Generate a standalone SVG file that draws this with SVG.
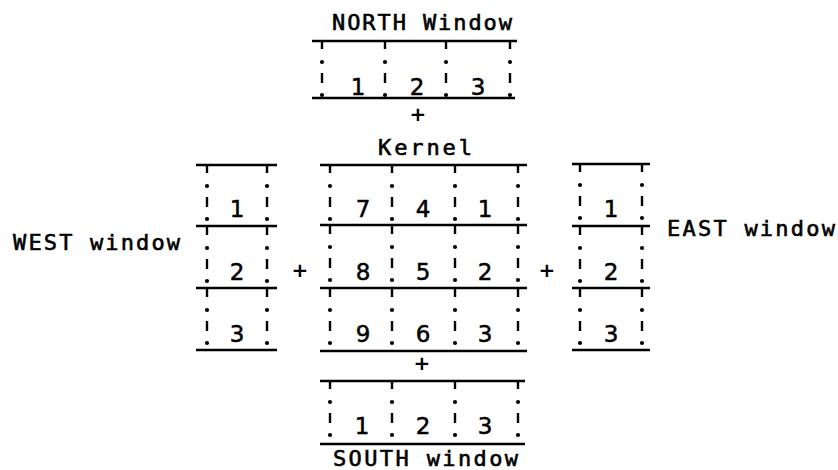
<svg xmlns="http://www.w3.org/2000/svg" xmlns:xlink="http://www.w3.org/1999/xlink" width="838" height="470" viewBox="0 0 838 470">
<style>
.h{stroke:#000;stroke-width:2.6;fill:none}
.lbl{font-family:"DejaVu Sans Mono","Liberation Mono",monospace;font-size:22px;fill:#000;stroke:#000;stroke-width:0.6}
.num{font-family:"DejaVu Sans","Liberation Sans",sans-serif;font-size:23px;fill:#000;stroke:#000;stroke-width:0.5;text-anchor:middle}
.plus{font-family:"DejaVu Sans","Liberation Sans",sans-serif;font-size:20px;font-weight:bold;fill:#000;text-anchor:middle}
</style>
<defs>
<g id="vc">
<line x1="0" y1="0" x2="0" y2="8" stroke="#000" stroke-width="2.4"/>
<circle cx="0" cy="21" r="2.1" fill="#000"/>
<line x1="0" y1="32" x2="0" y2="42" stroke="#000" stroke-width="2.4"/>
<circle cx="0" cy="54" r="2.1" fill="#000"/>
</g>
</defs>
<rect width="838" height="470" fill="#fff"/>

<g id="north">
<text class="lbl" x="332" y="30" textLength="180" lengthAdjust="spacing">NORTH Window</text>
<line class="h" x1="312" y1="41" x2="517" y2="41"/>
<use xlink:href="#vc" x="322" y="41"/><use xlink:href="#vc" x="385" y="41"/><use xlink:href="#vc" x="446" y="41"/><use xlink:href="#vc" x="510" y="41"/>
<line class="h" x1="312" y1="98" x2="515" y2="98"/>
<text class="num" x="358" y="95">1</text><text class="num" x="417" y="95">2</text><text class="num" x="478" y="95">3</text>
</g>

<g id="kernel">
<text class="lbl" x="378" y="155" textLength="94" lengthAdjust="spacing">Kernel</text>
<line class="h" x1="320" y1="165" x2="527" y2="165"/>
<line class="h" x1="320" y1="225" x2="527" y2="225"/>
<line class="h" x1="320" y1="288" x2="527" y2="288"/>
<line class="h" x1="320" y1="351" x2="527" y2="351"/>
<use xlink:href="#vc" x="330" y="165"/><use xlink:href="#vc" x="392" y="165"/><use xlink:href="#vc" x="455" y="165"/><use xlink:href="#vc" x="518" y="165"/>
<use xlink:href="#vc" x="330" y="226"/><use xlink:href="#vc" x="392" y="226"/><use xlink:href="#vc" x="455" y="226"/><use xlink:href="#vc" x="518" y="226"/>
<use xlink:href="#vc" x="330" y="289"/><use xlink:href="#vc" x="392" y="289"/><use xlink:href="#vc" x="455" y="289"/><use xlink:href="#vc" x="518" y="289"/>
<text class="num" x="363" y="217">7</text><text class="num" x="423" y="217">4</text><text class="num" x="485" y="217">1</text>
<text class="num" x="363" y="280">8</text><text class="num" x="423" y="280">5</text><text class="num" x="485" y="280">2</text>
<text class="num" x="363" y="342">9</text><text class="num" x="423" y="342">6</text><text class="num" x="485" y="342">3</text>
</g>

<g id="west">
<text class="lbl" x="13" y="250" textLength="167" lengthAdjust="spacing">WEST window</text>
<line class="h" x1="196" y1="165" x2="277" y2="165"/>
<line class="h" x1="196" y1="226" x2="277" y2="226"/>
<line class="h" x1="196" y1="288" x2="277" y2="288"/>
<line class="h" x1="196" y1="350" x2="277" y2="350"/>
<use xlink:href="#vc" x="207" y="165"/><use xlink:href="#vc" x="267" y="165"/>
<use xlink:href="#vc" x="207" y="227"/><use xlink:href="#vc" x="267" y="227"/>
<use xlink:href="#vc" x="207" y="289"/><use xlink:href="#vc" x="267" y="289"/>
<text class="num" x="237" y="217">1</text><text class="num" x="237" y="280">2</text><text class="num" x="237" y="342">3</text>
</g>

<g id="east">
<text class="lbl" x="667" y="236" textLength="168" lengthAdjust="spacing">EAST window</text>
<line class="h" x1="572" y1="164" x2="650" y2="164"/>
<line class="h" x1="572" y1="226" x2="650" y2="226"/>
<line class="h" x1="572" y1="288" x2="650" y2="288"/>
<line class="h" x1="572" y1="350" x2="650" y2="350"/>
<use xlink:href="#vc" x="580" y="164"/><use xlink:href="#vc" x="642" y="164"/>
<use xlink:href="#vc" x="580" y="227"/><use xlink:href="#vc" x="642" y="227"/>
<use xlink:href="#vc" x="580" y="289"/><use xlink:href="#vc" x="642" y="289"/>
<text class="num" x="611" y="217">1</text><text class="num" x="611" y="280">2</text><text class="num" x="611" y="342">3</text>
</g>

<g id="south">
<line class="h" x1="320" y1="381" x2="525" y2="381"/>
<use xlink:href="#vc" x="330" y="381"/><use xlink:href="#vc" x="392" y="381"/><use xlink:href="#vc" x="455" y="381"/><use xlink:href="#vc" x="518" y="381"/>
<line class="h" x1="320" y1="444" x2="525" y2="444"/>
<text class="num" x="362" y="434">1</text><text class="num" x="423" y="434">2</text><text class="num" x="485" y="434">3</text>
<text class="lbl" x="333" y="466" textLength="185" lengthAdjust="spacing">SOUTH window</text>
</g>

<g id="connectors">
<text class="plus" x="418" y="121">+</text>
<text class="plus" x="300" y="277">+</text>
<text class="plus" x="547" y="277">+</text>
<text class="plus" x="422" y="370">+</text>
</g>
</svg>
